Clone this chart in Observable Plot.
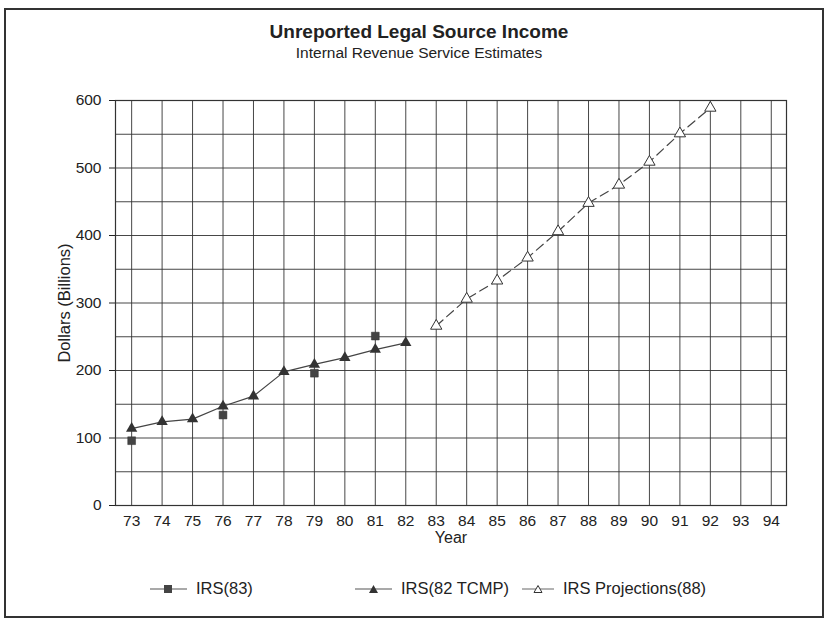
<!DOCTYPE html>
<html>
<head>
<meta charset="utf-8">
<script src="https://cdn.jsdelivr.net/npm/d3@7"></script>
<script src="https://cdn.jsdelivr.net/npm/@observablehq/plot@0.6"></script>
<style>
  html, body { margin: 0; padding: 0; background: #fff; }
  #wrap { position: relative; width: 830px; height: 628px; font-family: "Liberation Sans", Arial, sans-serif; color: #222; overflow: hidden; }
  #border { position: absolute; left: 4px; top: 8px; width: 820px; height: 610px; border: 2px solid #333; box-sizing: border-box; }
  #title { position: absolute; left: 0; width: 838px; top: 21px; text-align: center; font-weight: bold; font-size: 19px; }
  #subtitle { position: absolute; left: 0; width: 838px; top: 44px; text-align: center; font-size: 15.5px; }
  #chart { position: absolute; left: 0; top: 0; }
  .leg { position: absolute; top: 579px; font-size: 16.5px; display: flex; align-items: center; white-space: nowrap; }
  .leg svg { margin-right: 9px; }
</style>
</head>
<body>
<div id="wrap">
  <div id="border"></div>
  <div id="chart"></div>
  <div id="title">Unreported Legal Source Income</div>
  <div id="subtitle">Internal Revenue Service Estimates</div>
  <div class="leg" style="left:150px">
    <svg width="37" height="12"><line x1="0" x2="37" y1="6" y2="6" stroke="#555" stroke-width="1.2"/><rect x="14" y="2" width="8" height="8" fill="#444"/></svg>IRS(83)
  </div>
  <div class="leg" style="left:355px">
    <svg width="37" height="12"><line x1="0" x2="37" y1="6" y2="6" stroke="#555" stroke-width="1.2"/><path d="M18.5,2 L23,10 L14,10 Z" fill="#333"/></svg>IRS(82 TCMP)
  </div>
  <div class="leg" style="left:522px">
    <svg width="32" height="12"><line x1="0" x2="32" y1="6" y2="6" stroke="#666" stroke-width="1"/><path d="M16,2.5 L20,9.5 L12,9.5 Z" fill="#fff" stroke="#333" stroke-width="1"/></svg>IRS Projections(88)
  </div>
</div>
<script>
// IRS(83) estimates (squares, no connecting line)
const irs83Years = [73, 76, 79, 81];
const irs83Values = [96, 134, 196, 251];

// IRS(82 TCMP) estimates (filled triangles, solid line)
const tcmpYears = [73, 74, 75, 76, 77, 78, 79, 80, 81, 82];
const tcmpValues = [114, 124, 128, 147, 162, 198, 209, 219, 231, 241];

// IRS Projections(88) (hollow triangles, dashed line)
const projYears = [83, 84, 85, 86, 87, 88, 89, 90, 91, 92];
const projValues = [266, 306, 333, 367, 406, 448, 475, 509, 551, 589];

// Axis ticks
const xTicks = d3.range(73, 95);
const yLabelTicks = [0, 100, 200, 300, 400, 500, 600];
const yGridTicks = d3.range(0, 601, 50);

const irs83 = irs83Years.map((y, i) => ({year: y, value: irs83Values[i]}));
const tcmp = tcmpYears.map((y, i) => ({year: y, value: tcmpValues[i]}));
const proj = projYears.map((y, i) => ({year: y, value: projValues[i]}));

const ink = "#333";

const chart = Plot.plot({
  width: 830,
  height: 628,
  marginLeft: 115,
  marginRight: 44,
  marginTop: 100,
  marginBottom: 123,
  style: {fontFamily: "'Liberation Sans', Arial, sans-serif", fontSize: "15px", color: "#222", background: "transparent"},
  x: {domain: [72.47, 94.5]},
  y: {domain: [0, 600]},
  marks: [
    Plot.ruleX(xTicks, {stroke: ink, strokeWidth: 1, strokeOpacity: 0.9}),
    Plot.ruleY(yGridTicks, {stroke: ink, strokeWidth: 1, strokeOpacity: 0.9}),
    Plot.frame({stroke: ink, strokeWidth: 1.2}),
    Plot.axisX({ticks: xTicks, tickSize: 0, tickPadding: 9, tickFormat: d => String(d), fontSize: 15.5, label: null}),
    Plot.axisX({ticks: [], label: "Year", labelAnchor: "center", labelArrow: "none", labelOffset: 37, fontSize: 16}),
    Plot.axisY({ticks: yLabelTicks, tickSize: 6, tickPadding: 8, fontSize: 15.5, label: null}),
    Plot.axisY({ticks: [], label: "Dollars (Billions)", labelAnchor: "center", labelArrow: "none", labelOffset: 57, fontSize: 16.5}),
    Plot.line(tcmp, {x: "year", y: "value", stroke: "#444", strokeWidth: 1.2}),
    Plot.line(proj, {x: "year", y: "value", stroke: "#444", strokeWidth: 1.2, strokeDasharray: "9,5"}),
    Plot.dot(irs83, {x: "year", y: "value", symbol: "square", r: 4.4, fill: "#444", stroke: "#333", strokeWidth: 0.5}),
    Plot.dot(tcmp, {x: "year", y: "value", symbol: "triangle", r: 4.2, fill: "#333"}),
    Plot.dot(proj, {x: "year", y: "value", symbol: "triangle", r: 4.2, fill: "#fff", stroke: "#333", strokeWidth: 1})
  ]
});
document.getElementById("chart").appendChild(chart);
</script>
</body>
</html>
